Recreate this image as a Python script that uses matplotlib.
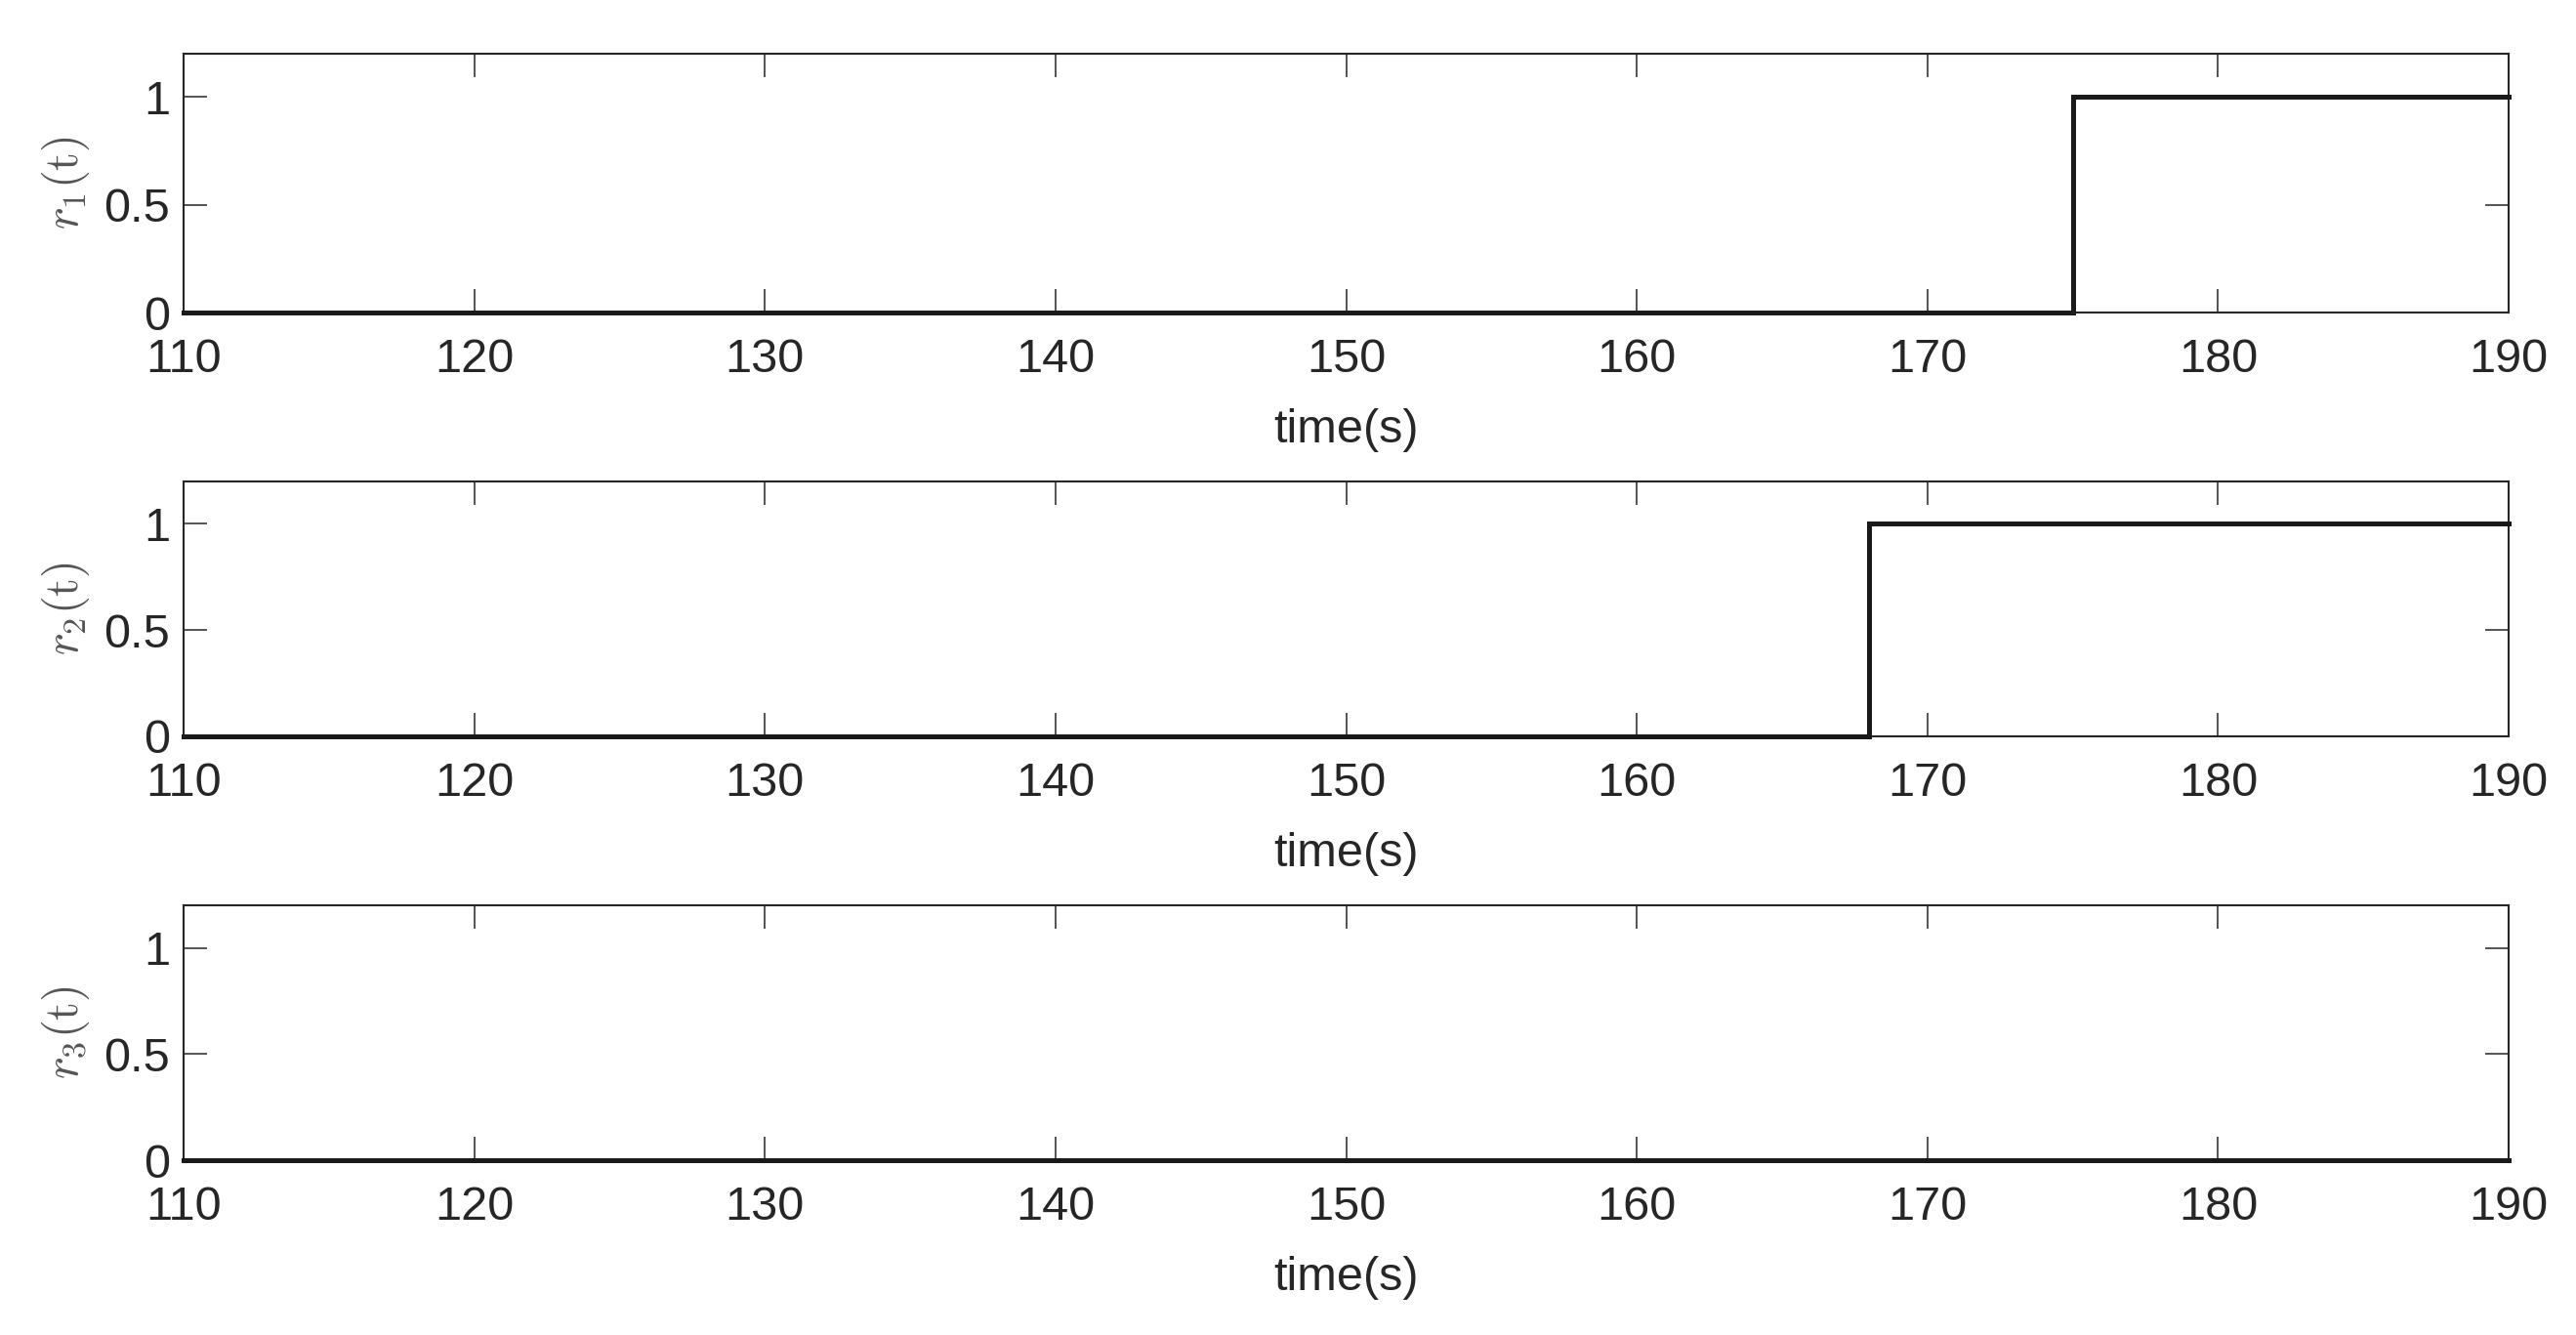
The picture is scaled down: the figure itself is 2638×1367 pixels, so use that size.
"""Three reference signals r1..r3 as step traces, MATLAB-style panels."""
import matplotlib
matplotlib.use("Agg")
import matplotlib.pyplot as plt

# step breakpoints (time, s) and levels held from each breakpoint on
r1_t = [110, 175, 190]
r1_v = [0, 1, 1]
r2_t = [110, 168, 190]
r2_v = [0, 1, 1]
r3_t = [110, 190]
r3_v = [0, 0]

x_ticks = [110, 120, 130, 140, 150, 160, 170, 180, 190]
y_ticks = [0, 0.5, 1]
y_labels = ["0", "0.5", "1"]
labels = [r"$r_1\mathrm{(t)}$", r"$r_2\mathrm{(t)}$", r"$r_3\mathrm{(t)}$"]
xlabel = "time(s)"

W, H = 2638, 1367
plt.rcParams["font.family"] = ["Liberation Sans", "DejaVu Sans"]
plt.rcParams["mathtext.fontset"] = "cm"
ink = "#262626"

fig = plt.figure(figsize=(W / 100, H / 100), dpi=100)
# axes boxes in pixels: (left, top, right, bottom)
boxes = [(188, 55, 2569, 320), (188, 493, 2569, 754), (188, 927, 2569, 1188)]
series = [(r1_t, r1_v), (r2_t, r2_v), (r3_t, r3_v)]

for (l, t, r, b), (ts, vs), lab in zip(boxes, series, labels):
    ax = fig.add_axes([l / W, 1 - b / H, (r - l) / W, (b - t) / H])
    ax.plot(ts, vs, drawstyle="steps-post", color="#1a1a1a", lw=3.6,
            solid_joinstyle="miter", zorder=3, clip_on=False)
    ax.set_xlim(110, 190)
    ax.set_ylim(0, 1.2)
    ax.set_xticks(x_ticks)
    ax.set_yticks(y_ticks)
    ax.set_yticklabels(y_labels)
    ax.tick_params(direction="in", top=True, right=True, length=17, width=1.1,
                   color=ink, labelcolor=ink, labelsize=35)
    ax.tick_params(axis="x", pad=19)
    ax.tick_params(axis="y", pad=10)
    for s in ax.spines.values():
        s.set_linewidth(1.5)
        s.set_color(ink)
    ax.set_xlabel(xlabel, fontsize=35, color=ink, labelpad=19)
    ax.set_ylabel(lab, fontsize=35, color="#555555")
    ax.yaxis.set_label_coords(-(l - 94) / (r - l), 0.5)

fig.savefig("out.png", dpi=100, facecolor="white")
